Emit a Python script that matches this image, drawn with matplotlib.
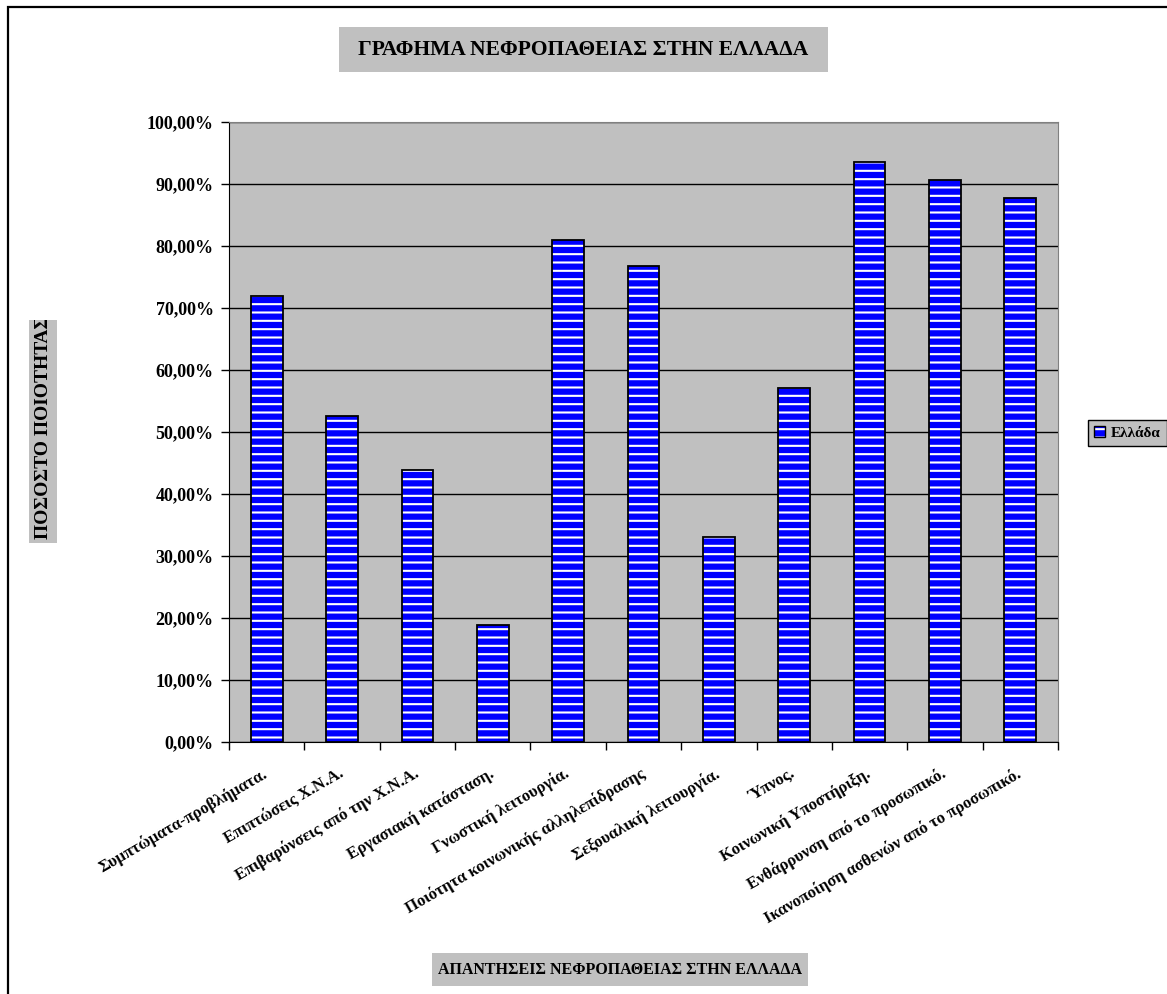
import matplotlib.pyplot as plt
from matplotlib.patches import Rectangle, Patch
from matplotlib.ticker import FuncFormatter, MultipleLocator
from matplotlib.transforms import Bbox, TransformedBbox

categories = [
    'Συμπτώματα-προβλήματα.',
    'Επιπτώσεις Χ.Ν.Α.',
    'Επιβαρύνσεις από την Χ.Ν.Α.',
    'Εργασιακή κατάσταση.',
    'Γνωστική λειτουργία.',
    'Ποιότητα κοινωνικής αλληλεπίδρασης',
    'Σεξουαλική λειτουργία.',
    'Ύπνος.',
    'Κοινωνική Υποστήριξη.',
    'Ενθάρρυνση από το προσωπικό.',
    'Ικανοποίηση ασθενών από το προσωπικό.',
]
values = [72.0, 52.6, 43.9, 18.9, 81.0, 76.8, 33.1, 57.1, 93.5, 90.6, 87.7]
series_name = 'Ελλάδα'

title = 'ΓΡΑΦΗΜΑ ΝΕΦΡΟΠΑΘΕΙΑΣ ΣΤΗΝ ΕΛΛΑΔΑ'
x_title = 'ΑΠΑΝΤΗΣΕΙΣ ΝΕΦΡΟΠΑΘΕΙΑΣ ΣΤΗΝ ΕΛΛΑΔΑ'
y_title = 'ΠΟΣΟΣΤΟ ΠΟΙΟΤΗΤΑΣ'

W, H = 1167, 994
GRAY = '#C0C0C0'
BLUE = '#0000FF'

plt.rcParams['font.family'] = 'Liberation Serif'
plt.rcParams['font.weight'] = 'bold'
plt.rcParams['hatch.linewidth'] = 1.5


def px(x, y):
    # pixel position (from top-left) -> figure fraction
    return x / W, 1 - y / H


fig = plt.figure(figsize=(W / 100, H / 100), dpi=100)

# outer chart border
fig.add_artist(Rectangle(px(8, 1010), 1.2, (1010 - 7) / H, transform=fig.transFigure,
                         fill=False, edgecolor='black', linewidth=1.6))

ax = fig.add_axes([229 / W, 1 - 742 / H, (1058 - 229) / W, (742 - 122) / H])
ax.set_facecolor(GRAY)

pos = list(range(len(categories)))
# striped fill, then a black outline on top
ax.bar(pos, values, width=0.42, color=BLUE, edgecolor='white', hatch='--', linewidth=0, zorder=2)
ax.bar(pos, values, width=0.42, fill=False, edgecolor='black', linewidth=1.3, zorder=3)

ax.set_xlim(-0.5, len(categories) - 0.5)
ax.set_ylim(0, 100)
ax.yaxis.set_major_locator(MultipleLocator(10))
ax.yaxis.set_major_formatter(FuncFormatter(lambda v, p: f'{v:.2f}%'.replace('.', ',')))
ax.grid(axis='y', color='black', linewidth=1)
ax.set_axisbelow(True)

ax.set_xticks([i - 0.5 for i in range(len(categories) + 1)])
ax.set_xticklabels([])
ax.set_xticks(pos, minor=True)
ax.set_xticklabels(categories, minor=True)
ax.tick_params(axis='x', which='major', length=6, width=1, direction='out')
ax.tick_params(axis='x', which='minor', length=0, pad=22, labelsize=12)
ax.tick_params(axis='y', length=6, width=1, direction='out', pad=5, labelsize=13)
plt.setp(ax.get_xticklabels(minor=True), rotation=30, ha='right', va='center',
         rotation_mode='anchor')

for side in ['top', 'right']:
    ax.spines[side].set_color('#808080')
for side in ['left', 'bottom']:
    ax.spines[side].set_color('black')

# title boxes
def gray_box(x0, y0, x1, y1):
    fig.add_artist(Rectangle(px(x0, y1), (x1 - x0) / W, (y1 - y0) / H,
                             transform=fig.transFigure, facecolor=GRAY, edgecolor='none'))

gray_box(339, 27, 828, 72)
fig.text(*px(583, 50), title, ha='center', va='center', fontsize=15.5, weight='bold')

gray_box(432, 953, 808, 986)
fig.text(*px(620, 970), x_title, ha='center', va='center', fontsize=11.5, weight='bold')

gray_box(29, 320, 57, 543)
yt = fig.text(*px(43, 539), y_title, ha='left', va='center', rotation=90,
              rotation_mode='anchor', fontsize=14, weight='bold')
clip = Bbox.from_extents(*px(29, 543), *px(57, 320))
yt.set_clip_box(TransformedBbox(clip, fig.transFigure))
yt.set_clip_on(True)

# legend
fill_patch = Patch(facecolor=BLUE, edgecolor='white', hatch='--', linewidth=0)
edge_patch = Patch(fill=False, edgecolor='black', linewidth=1)
fig.legend(handles=[(fill_patch, edge_patch)], labels=[series_name],
           loc='center left', bbox_to_anchor=px(1088, 433), fontsize=11,
           frameon=True, fancybox=False, edgecolor='black', facecolor=GRAY, framealpha=1,
           handlelength=0.7, handleheight=0.7, handletextpad=0.4, borderpad=0.4,
           borderaxespad=0)

fig.savefig('out.png', dpi=100)
